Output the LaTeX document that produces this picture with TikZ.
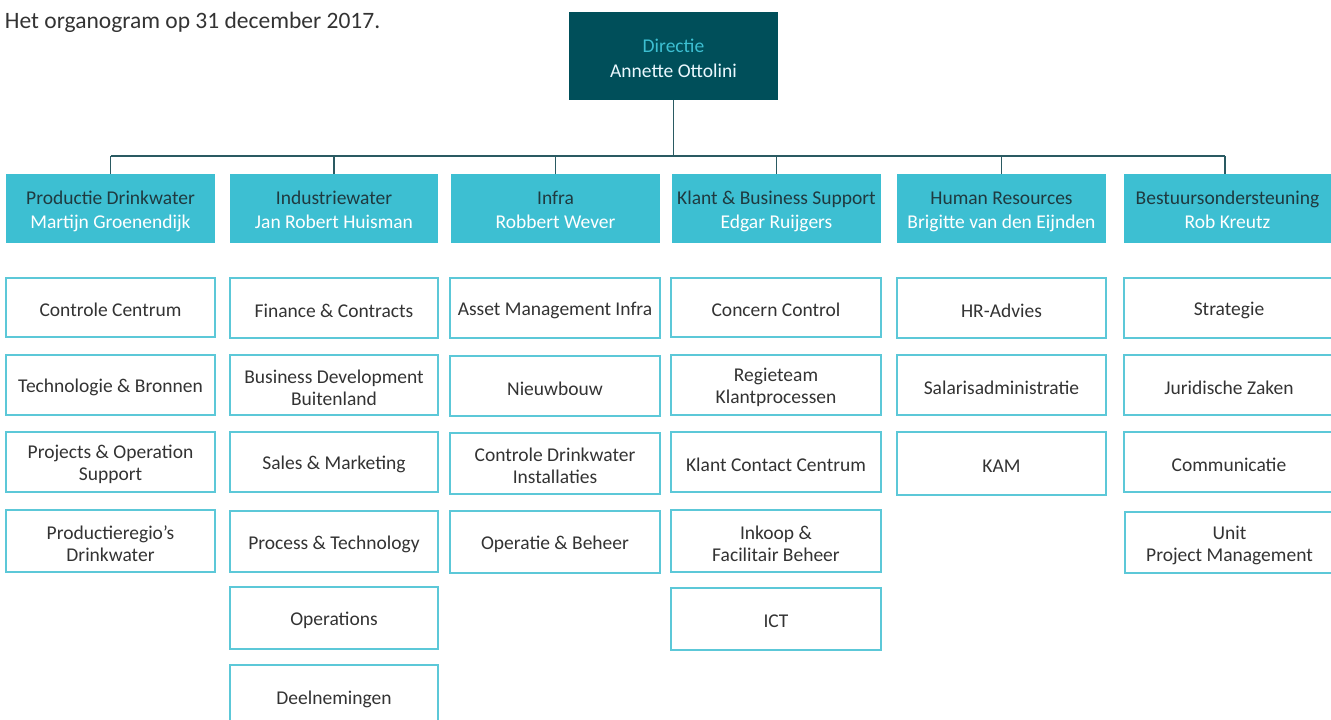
\documentclass[tikz,border=0pt]{standalone}
\usepackage{fontspec}
\setmainfont{Carlito}
\definecolor{dirfill}{HTML}{004F5A}
\definecolor{cyanfill}{HTML}{3DBFD2}
\definecolor{boxline}{HTML}{5CC8D8}
\definecolor{txt}{HTML}{333333}
\definecolor{hdtxt}{HTML}{1F3A40}
\definecolor{conn}{HTML}{2A5A62}
\newcommand\ubox[7][sub]{\node[#1, minimum width={(#5-#3)*1pt}, minimum height={(#6-#4)*1pt}, label={[#1 text]center:{#7}}] (#2) at ({(#3+#5)/2},{(#4+#6)/2}) {};}
\newcommand\hd[2]{\strut #1\\{\color{white}\strut #2}}
\begin{document}
\begin{tikzpicture}[x=1pt,y=-1pt,
  every node/.style={align=center, inner sep=0pt, outer sep=0pt},
  sub/.style={draw=boxline, line width=1.2pt, fill=white},
  sub text/.style={text=txt, font=\fontsize{19.5}{22}\selectfont, yshift=-2.5pt},
  head/.style={fill=cyanfill},
  head text/.style={text=hdtxt, font=\fontsize{19.5}{24}\selectfont, yshift=-3.6pt},
  dirbox/.style={fill=dirfill},
  dirbox text/.style={font=\fontsize{19.5}{25}\selectfont, yshift=-2.5pt},
  link/.style={draw=conn, line width=1.1pt}]
\useasboundingbox (0,0) rectangle (1331,720);
\clip (0,0) rectangle (1331,720);
\node[anchor=base west, text=txt, font=\fontsize{23.5}{27}\selectfont] (title) at (5,28) {Het organogram op 31 december 2017.};
\ubox[dirbox]{dir}{569}{12}{778}{100}{{\color{cyanfill}Directie}\\{\color{white!92!cyan}Annette Ottolini}}
\ubox[head]{h1}{6}{174}{215}{243}{\hd{Productie Drinkwater}{Martijn Groenendijk}}
\ubox[head]{h2}{230}{174}{438}{243}{\hd{Industriewater}{Jan Robert Huisman}}
\ubox[head]{h3}{451}{174}{660}{243}{\hd{Infra}{Robbert Wever}}
\ubox[head]{h4}{672}{174}{881}{243}{\hd{Klant \& Business Support}{Edgar Ruijgers}}
\ubox[head]{h5}{897}{174}{1106}{243}{\hd{Human Resources}{Brigitte van den Eijnden}}
\ubox[head]{h6}{1124}{174}{1331}{243}{\hd{Bestuursondersteuning}{Rob Kreutz}}
\coordinate (bus) at (674,156);
\draw[link] (dir.south) -- (dir.south |- bus);
\draw[link] (h1.north |- bus) -- (1225,156);
\foreach \h in {h1,h2,h3,h4,h5}{\draw[link] (\h.north) -- (\h.north |- bus);}
\draw[link] (1225,156) coordinate (b6) -- (b6 |- h6.north);
% column 1
\ubox{a1}{6}{278}{215}{337}{Controle Centrum}
\ubox{a2}{6}{355}{215}{415}{Technologie \& Bronnen}
\ubox{a3}{6}{432}{215}{492}{Projects \& Operation\\Support}
\ubox{a4}{6}{510}{215}{572}{Productieregio’s\\Drinkwater}
% column 2
\ubox{b1}{230}{278}{438}{338}{Finance \& Contracts}
\ubox{b2}{230}{355}{438}{415}{Business Development\\Buitenland}
\ubox{b3}{230}{432}{438}{492}{Sales \& Marketing}
\ubox{b4}{230}{511}{438}{572}{Process \& Technology}
\ubox{b5}{230}{587}{438}{649}{Operations}
\ubox{b6}{230}{665}{438}{729}{\raisebox{4pt}{Deelnemingen}}
% column 3
\ubox{c1}{450}{278}{660}{338}{Asset Management Infra}
\ubox{c2}{450}{356}{660}{416}{Nieuwbouw}
\ubox{c3}{450}{433}{660}{494}{Controle Drinkwater\\Installaties}
\ubox{c4}{450}{511}{660}{573}{Operatie \& Beheer}
% column 4
\ubox{d1}{671}{278}{881}{337}{Concern Control}
\ubox{d2}{671}{355}{881}{415}{Regieteam\\Klantprocessen}
\ubox{d3}{671}{432}{881}{492}{Klant Contact Centrum}
\ubox{d4}{671}{510}{881}{572}{Inkoop \&\\Facilitair Beheer}
\ubox{d5}{671}{588}{881}{650}{ICT}
% column 5
\ubox{e1}{897}{278}{1106}{338}{HR-Advies}
\ubox{e2}{897}{355}{1106}{415}{Salarisadministratie}
\ubox{e3}{897}{432}{1106}{495}{KAM}
% column 6
\ubox{f1}{1124}{278}{1334}{338}{Strategie}
\ubox{f2}{1124}{355}{1334}{415}{Juridische Zaken}
\ubox{f3}{1124}{432}{1334}{492}{Communicatie}
\ubox{f4}{1125}{512}{1334}{573}{Unit\\Project Management}
\end{tikzpicture}
\end{document}
